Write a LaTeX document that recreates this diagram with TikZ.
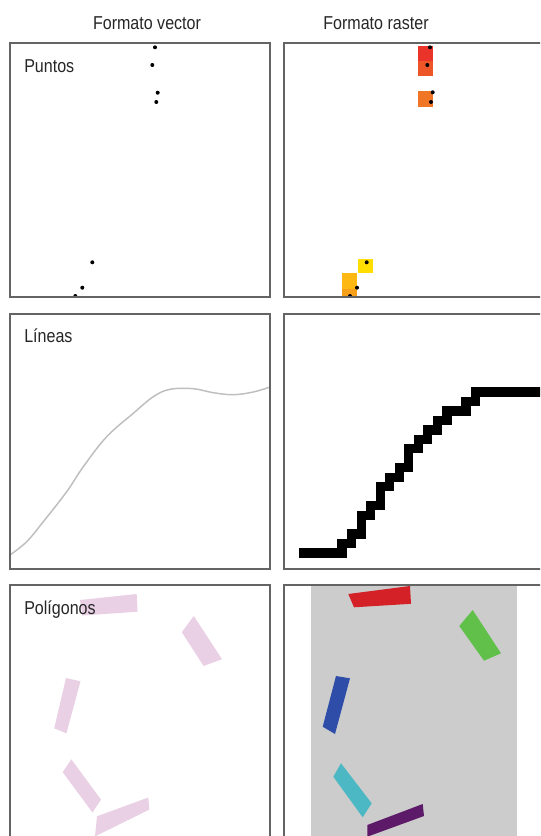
\documentclass[tikz,border=0pt]{standalone}
\usepackage{fontspec}
\setmainfont[FakeStretch=0.86]{Liberation Sans}
\definecolor{framegray}{RGB}{100,100,100}
\definecolor{linegray}{RGB}{190,190,190}
\definecolor{pinkpoly}{RGB}{233,208,228}
\definecolor{rastbg}{RGB}{204,204,204}
\definecolor{cellred}{RGB}{234,52,42}
\definecolor{cellredor}{RGB}{238,86,40}
\definecolor{cellor}{RGB}{240,118,38}
\definecolor{cellyel}{RGB}{255,222,0}
\definecolor{cellyor}{RGB}{253,184,20}
\definecolor{cellorb}{RGB}{249,160,27}
\definecolor{polyred}{RGB}{212,32,39}
\definecolor{polygreen}{RGB}{96,192,74}
\definecolor{polyblue}{RGB}{46,77,168}
\definecolor{polycyan}{RGB}{76,184,196}
\definecolor{polypurple}{RGB}{92,26,104}
\begin{document}
\begin{tikzpicture}[x=0.75pt, y=-0.75pt, font=\fontsize{14}{16}\selectfont,
  panel/.style={draw=framegray, line width=0.8pt},
  title/.style={anchor=base, text=black!85, inner sep=0pt},
  label/.style={anchor=base west, text=black!85, inner sep=0pt},
  dot/.style={fill=black}]
  \useasboundingbox (0,0) rectangle (540,836);
  \clip (0,0) rectangle (540,836);

  % column titles
  \node[title] (tvector) at (147,29) {Formato vector};
  \node[title] (traster) at (376,29) {Formato raster};

  % points, vector
  \fill[dot] (155,47.3) circle (1.5pt);
  \fill[dot] (152.3,65) circle (1.5pt);
  \fill[dot] (157.7,92.7) circle (1.5pt);
  \fill[dot] (156.3,102) circle (1.5pt);
  \fill[dot] (92.3,262.3) circle (1.5pt);
  \fill[dot] (82.3,287.7) circle (1.5pt);
  \fill[dot] (75.3,296) circle (1.5pt);
  \draw[panel] (10,43) rectangle (270,297);
  \node[label] (lpuntos) at (24,72.3) {Puntos};

  % points, raster
  \fill[cellred] (418.3,46) rectangle (433.3,60.7);
  \fill[cellredor] (418.3,60.7) rectangle (433.3,76);
  \fill[cellor] (418.3,91.3) rectangle (433.3,106.7);
  \fill[cellyel] (357.7,258.7) rectangle (372.7,273.3);
  \fill[cellyor] (342.3,273.3) rectangle (357.3,288.7);
  \fill[cellorb] (342.3,288.7) rectangle (357.3,297);
  \fill[dot] (430,47.3) circle (1.5pt);
  \fill[dot] (427.3,65) circle (1.5pt);
  \fill[dot] (432.7,92.3) circle (1.5pt);
  \fill[dot] (431,102) circle (1.5pt);
  \fill[dot] (366.7,262.3) circle (1.5pt);
  \fill[dot] (357,287.7) circle (1.5pt);
  \fill[dot] (350,296) circle (1.5pt);
  \draw[panel] (284,43) rectangle (560,297);

  % lines, vector
  \draw[linegray, line width=1.1pt] plot[smooth, tension=0.6] coordinates {
    (10,555) (26.7,541.7) (43.3,521.7) (66.7,491.7) (83.3,466.7)
    (106.7,436.7) (133.3,413.3) (153.3,396.7) (170,389.3) (193.3,388.7)
    (213.3,392.7) (233.3,394.7) (253.3,392) (270,387)};
  \draw[panel] (10,314) rectangle (270,569);
  \node[label] (llineas) at (24,342.7) {Líneas};

  % lines, raster
  \begin{scope}[shift={(337.3,387.3)}, x=7.15pt, y=-7.1pt]
    \draw[line width=6.9pt, line join=miter] (-4,17.5) -- (0.5,17.5) -- (0.5,16.5)
      -- (1.5,16.5) -- (1.5,15.5) -- (2.5,15.5) -- (2.5,13.5) -- (3.5,13.5)
      -- (3.5,12.5) -- (4.5,12.5) -- (4.5,10.5) -- (5.5,10.5) -- (5.5,9.5)
      -- (6.5,9.5) -- (6.5,8.5) -- (7.5,8.5) -- (7.5,6.5) -- (8.5,6.5)
      -- (8.5,5.5) -- (9.5,5.5) -- (9.5,4.5) -- (10.5,4.5) -- (10.5,3.5)
      -- (11.5,3.5) -- (11.5,2.5) -- (13.5,2.5) -- (13.5,1.5) -- (14.5,1.5)
      -- (14.5,0.5) -- (25,0.5);
  \end{scope}
  \draw[panel] (284,314) rectangle (560,569);

  % polygons, vector
  \fill[pinkpoly] (80,600) -- (136.7,594) -- (137.5,611.7) -- (82.5,615.5) -- cycle;
  \fill[pinkpoly] (193.8,616) -- (222,659.2) -- (203.6,666) -- (181.8,632.2) -- cycle;
  \fill[pinkpoly] (66,678) -- (80.5,681.3) -- (66.4,733.3) -- (54.2,728.3) -- cycle;
  \fill[pinkpoly] (71.3,759.3) -- (101,799.6) -- (92.5,812.5) -- (62.7,772.2) -- cycle;
  \fill[pinkpoly] (97,816.3) -- (148.3,797.5) -- (149.3,809.6) -- (95,836.4) -- cycle;
  \draw[panel] (10,585) rectangle (270,850);
  \node[label] (lpoligonos) at (24,614.8) {Polígonos};

  % polygons, raster
  \fill[rastbg] (310.7,585) rectangle (516.7,836);
  \fill[polyred] (348.3,594) -- (410,586) -- (411,603.8) -- (354,607.3) -- cycle;
  \fill[polygreen] (472.7,610) -- (501,653.3) -- (484,660.7) -- (459.3,626) -- cycle;
  \fill[polyblue] (336,676) -- (350,678.3) -- (335,734) -- (322.7,726.7) -- cycle;
  \fill[polycyan] (341,763.3) -- (371.7,803.3) -- (362.7,817.3) -- (333.3,776.7) -- cycle;
  \fill[polypurple] (367.3,825) -- (422.7,804) -- (424,816) -- (367.3,836.7) -- cycle;
  \draw[panel] (284,585) rectangle (560,850);
\end{tikzpicture}
\end{document}
